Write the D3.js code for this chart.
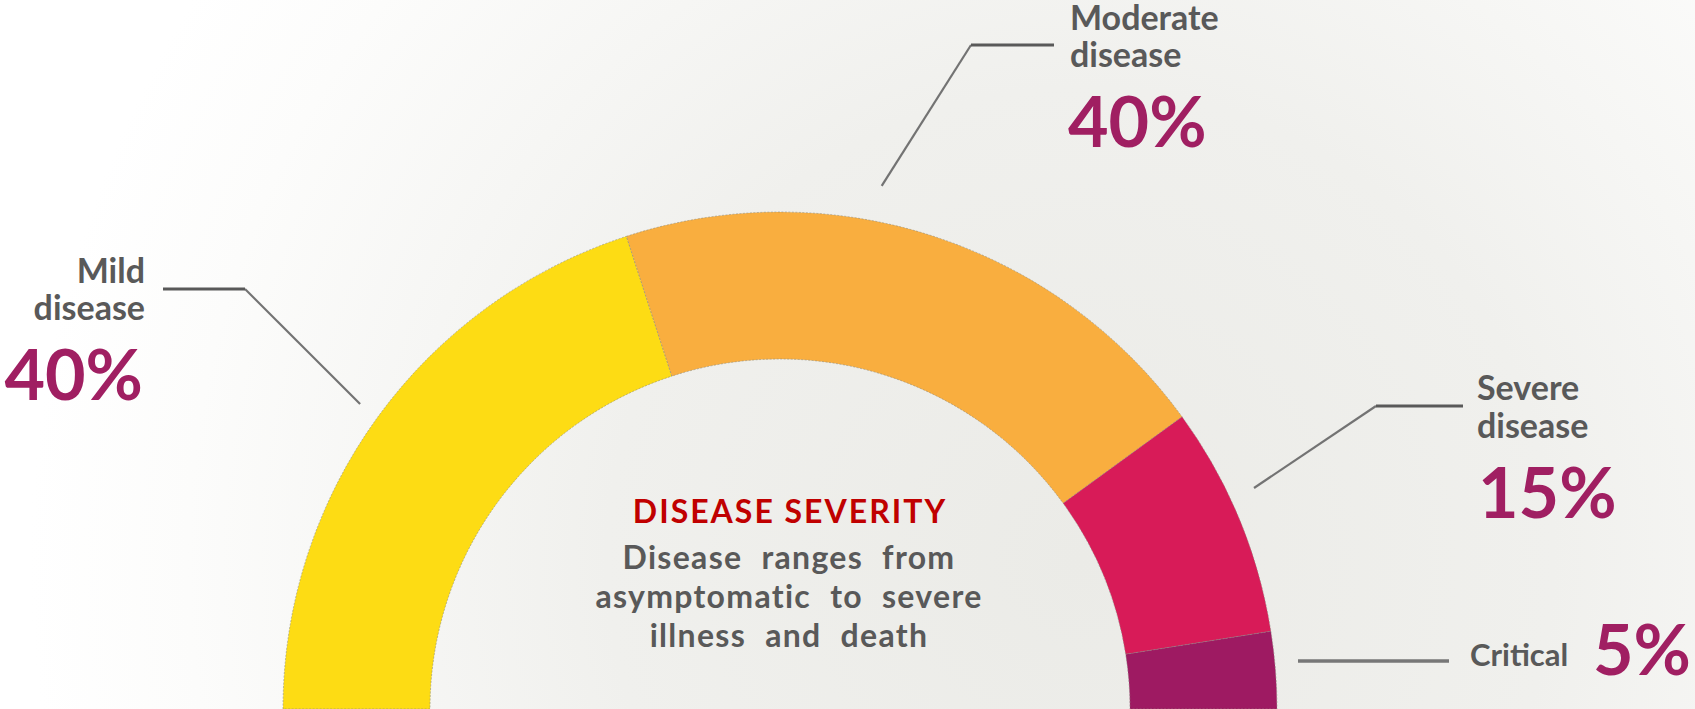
<!DOCTYPE html>
<html>
<head>
<meta charset="utf-8">
<script src="https://cdn.jsdelivr.net/npm/d3@7"></script>
<style>
  html, body { margin: 0; padding: 0; background: #fff; }
  svg { display: block; }
  text { font-family: Lato, "Open Sans", sans-serif; font-weight: 700; }
</style>
</head>
<body>
<svg id="chart" width="1695" height="709"></svg>
<script>
// Severity categories and their share of cases (%)
const categories = ["Mild disease", "Moderate disease", "Severe disease", "Critical"];
const labelLines = [["Mild", "disease"], ["Moderate", "disease"], ["Severe", "disease"], ["Critical"]];
const shares = [40, 40, 15, 5];
const colors = ["#FDDC14", "#F9AE3F", "#D81B58", "#9E1A62"];
const title = "DISEASE SEVERITY";
const subtitle = ["Disease ranges from", "asymptomatic to severe", "illness and death"];

const W = 1695, H = 709;
const svg = d3.select("#chart");

// soft grey backdrop fading to white at the left
const defs = svg.append("defs");
const grad = defs.append("radialGradient")
  .attr("id", "bg").attr("gradientUnits", "userSpaceOnUse")
  .attr("cx", 1080).attr("cy", 560).attr("r", 1050);
grad.append("stop").attr("offset", "0").attr("stop-color", "#EBEBE7");
grad.append("stop").attr("offset", "0.45").attr("stop-color", "#F0F0ED");
grad.append("stop").attr("offset", "0.85").attr("stop-color", "#FCFCFB");
grad.append("stop").attr("offset", "1").attr("stop-color", "#FFFFFF");
svg.append("rect").attr("width", W).attr("height", H).attr("fill", "url(#bg)");

// half donut: the whole 100% spans a semicircle
const cx = 780, cy = 709, rOuter = 497, rInner = 350;
const pie = d3.pie().sort(null).value(d => d)
  .startAngle(-Math.PI / 2).endAngle(Math.PI / 2);
const arc = d3.arc().innerRadius(rInner).outerRadius(rOuter);
const arcs = pie(shares);

const g = svg.append("g").attr("transform", `translate(${cx},${cy})`);
g.selectAll("path.slice").data(arcs).join("path")
  .attr("class", "slice")
  .attr("d", arc)
  .attr("fill", (d, i) => colors[i])
  .attr("stroke", "#8a8a80")
  .attr("stroke-width", 0.8)
  .attr("stroke-dasharray", "2,1.5")
  .attr("stroke-opacity", 0.7);

// centre caption
const cap = svg.append("g").attr("text-anchor", "middle");
cap.append("text").attr("x", 790).attr("y", 523)
  .attr("fill", "#C00000").attr("font-size", 32)
  .attr("letter-spacing", 2).text(title);
cap.selectAll("text.sub").data(subtitle).join("text")
  .attr("class", "sub")
  .attr("x", 789).attr("y", (d, i) => 569 + i * 39)
  .attr("fill", "#595959").attr("font-size", 32)
  .attr("letter-spacing", 1.3).attr("word-spacing", 10).text(d => d);

// callouts: leader line (tip -> elbow -> end), label lines and the percentage
// tip is given in polar form around the ring centre (degrees from 12 o'clock, radius)
const callouts = [
  { tip: [-54, 519], elbow: [245, 289], end: [163, 289], anchor: "end", lx: 145, ly: [283, 320], px: 143, py: 400 },
  { tip: [11, 533], elbow: [971, 45], end: [1054, 45], anchor: "start", lx: 1070, ly: [30, 67], px: 1068, py: 147 },
  { tip: [65, 523], elbow: [1376, 406], end: [1463, 406], anchor: "start", lx: 1477, ly: [400, 438], px: 1478, py: 518 },
  { tip: null, start: [1298, 661], end: [1449, 661], anchor: "start", lx: 1470, ly: [666], px: 1593, py: 675 }
];

callouts.forEach((c, i) => {
  if (c.tip) {
    const ang = c.tip[0] * Math.PI / 180;
    const tx = cx + c.tip[1] * Math.sin(ang), ty = cy - c.tip[1] * Math.cos(ang);
    svg.append("line")
      .attr("x1", tx).attr("y1", ty).attr("x2", c.elbow[0]).attr("y2", c.elbow[1])
      .attr("stroke", "#737373").attr("stroke-width", 2.2);
    svg.append("line")
      .attr("x1", c.elbow[0]).attr("y1", c.elbow[1]).attr("x2", c.end[0]).attr("y2", c.end[1])
      .attr("stroke", "#595959").attr("stroke-width", 3);
  } else {
    svg.append("line")
      .attr("x1", c.start[0]).attr("y1", c.start[1]).attr("x2", c.end[0]).attr("y2", c.end[1])
      .attr("stroke", "#777").attr("stroke-width", 3.5);
  }
  const lines = labelLines[i];
  svg.selectAll(null).data(lines).join("text")
    .attr("x", c.lx).attr("y", (d, j) => c.ly[j])
    .attr("text-anchor", c.anchor)
    .attr("fill", "#595959")
    .attr("font-size", i === 3 ? 31 : 34)
    .text(d => d);
  svg.append("text")
    .attr("x", c.px).attr("y", c.py)
    .attr("text-anchor", c.anchor)
    .attr("fill", "#A01F62")
    .attr("font-size", 70)
    .text(shares[i] + "%");
});
</script>
</body>
</html>
